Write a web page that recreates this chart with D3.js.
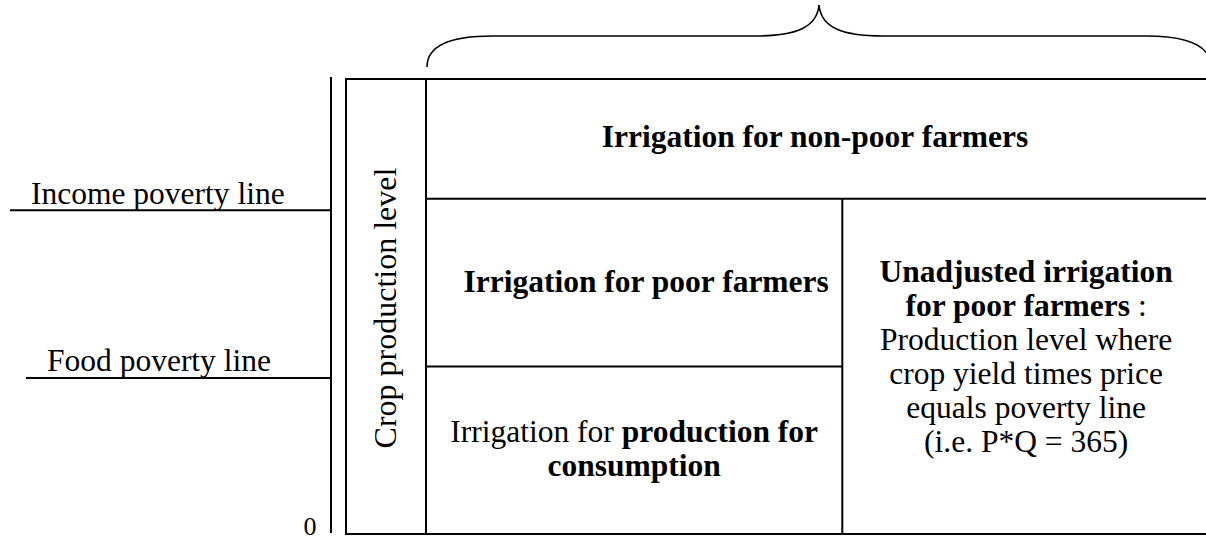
<!DOCTYPE html>
<html>
<head>
<meta charset="utf-8">
<script src="https://cdn.jsdelivr.net/npm/d3@7"></script>
<style>
  html, body { margin: 0; padding: 0; background: #fff; }
  svg { display: block; }
  text { font-family: "Liberation Serif", "Times New Roman", serif; fill: #000; }
</style>
</head>
<body>
<div id="display"></div>
<script>
// production levels on the left axis (fraction of axis height)
var levelNames = ["Food poverty line", "Income poverty line"]
var levelValues = [0.34, 0.708]
var levelStart = [26, 10]          // where each poverty line starts on the left
var zeroLabel = "0"
var axisTitle = "Crop production level"

// column split of the irrigation box (fraction of the box width)
var splitAt = 0.531

// cell texts, each line is a list of [text, bold]
var topCell = [[["Irrigation for non-poor farmers", true]]]
var poorCell = [[["Irrigation for poor farmers", true]]]
var consCell = [
  [["Irrigation for ", false], ["production for", true]],
  [["consumption", true]]
]
var unadjCell = [
  [["Unadjusted irrigation", true]],
  [["for poor farmers", true], [" :", false]],
  [["Production level where", false]],
  [["crop yield times price", false]],
  [["equals poverty line", false]],
  [["(i.e. P*Q = 365)", false]]
]

var width = 1206, height = 540
var fs = 31.5
var lineH = 34

var svg = d3.select('#display').append('svg')
  .attr('width', width)
  .attr('height', height)

var y = d3.scaleLinear().domain([0, 1]).range([533, 77])
var boxTop = 79, boxBottom = 534, boxShift = -11.5
var boxLeft = 346, labelCol = 426
var x = d3.scaleLinear().domain([0, 1]).range([labelCol, 1210])
var axisX = 331

// left axis
svg.append('line')
  .attr('x1', axisX).attr('x2', axisX)
  .attr('y1', y(1)).attr('y2', y(0))
  .attr('stroke', '#000').attr('stroke-width', 2)

svg.selectAll('line.level').data(levelValues).enter()
  .append('line').attr('class', 'level')
  .attr('x1', function(d, i){ return levelStart[i] })
  .attr('x2', axisX)
  .attr('y1', function(d){ return y(d) })
  .attr('y2', function(d){ return y(d) })
  .attr('stroke', '#000').attr('stroke-width', 2)

svg.selectAll('text.level').data(levelValues).enter()
  .append('text').attr('class', 'level')
  .attr('x', function(d, i){ return levelStart[i] + 21 })
  .attr('y', function(d){ return y(d) - 6.5 })
  .attr('font-size', fs)
  .text(function(d, i){ return levelNames[i] })

svg.append('text')
  .attr('x', 310).attr('y', y(0) + 2)
  .attr('text-anchor', 'middle')
  .attr('font-size', 26)
  .text(zeroLabel)

// box
var g = svg.append('g').attr('fill', 'none').attr('stroke', '#000').attr('stroke-width', 2)
g.append('rect')
  .attr('x', boxLeft).attr('y', boxTop)
  .attr('width', x(1) - boxLeft).attr('height', boxBottom - boxTop)
g.append('line')
  .attr('x1', labelCol).attr('x2', labelCol)
  .attr('y1', boxTop).attr('y2', boxBottom)
var incY = y(levelValues[1]) + boxShift
var foodY = y(levelValues[0]) + boxShift
g.append('line')
  .attr('x1', labelCol).attr('x2', x(1))
  .attr('y1', incY).attr('y2', incY)
g.append('line')
  .attr('x1', x(splitAt)).attr('x2', x(splitAt))
  .attr('y1', incY).attr('y2', boxBottom)
g.append('line')
  .attr('x1', labelCol).attr('x2', x(splitAt))
  .attr('y1', foodY).attr('y2', foodY)

// rotated title
svg.append('text')
  .attr('transform', 'translate(' + 396 + ',' + 308 + ') rotate(-90)')
  .attr('text-anchor', 'middle')
  .attr('font-size', fs + 0.5)
  .text(axisTitle)

function block(lines, cx, firstBase){
  var t = svg.append('text')
    .attr('text-anchor', 'middle')
    .attr('font-size', fs)
  lines.forEach(function(line, i){
    var row = t.append('tspan').attr('x', cx).attr('y', firstBase + i * lineH)
    line.forEach(function(part){
      row.append('tspan')
        .attr('font-weight', part[1] ? 'bold' : 'normal')
        .text(part[0])
    })
  })
}

block(topCell, (x(0) + x(1)) / 2 - 3, 147)
block(poorCell, (x(0) + x(splitAt)) / 2 + 12, 292)
block(consCell, (x(0) + x(splitAt)) / 2, 442)
block(unadjCell, (x(splitAt) + x(1)) / 2, 282)

// brace over the box
var p = d3.path()
p.moveTo(427, 67)
p.bezierCurveTo(427, 45, 452, 36, 492, 36)
p.lineTo(755, 36)
p.bezierCurveTo(797, 36, 817, 27, 819, 5)
p.bezierCurveTo(821, 27, 841, 36, 883, 36)
p.lineTo(1146, 36)
p.bezierCurveTo(1186, 36, 1211, 45, 1211, 67)
svg.append('path')
  .attr('d', p.toString())
  .attr('fill', 'none')
  .attr('stroke', '#000')
  .attr('stroke-width', 1.6)
</script>
</body>
</html>
